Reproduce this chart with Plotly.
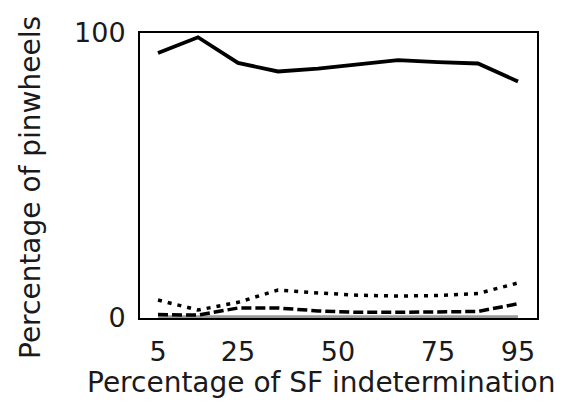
import plotly.graph_objects as go

x_vals = [5, 15, 25, 35, 45, 55, 65, 75, 85, 95]
solid_vals = [93.0, 98.5, 89.5, 86.5, 87.5, 89.0, 90.5, 89.8, 89.3, 83.0]
dotted_vals = [6.3, 2.8, 5.5, 9.8, 8.8, 8.0, 7.7, 7.9, 8.6, 12.3]
dashed_vals = [1.2, 1.0, 3.5, 3.5, 2.5, 2.0, 2.0, 2.0, 2.3, 5.0]
gray_vals = [0.3, 0.3, 0.3, 0.3, 0.3, 0.3, 0.3, 0.3, 0.3, 0.3]
x_ticks = [5, 25, 50, 75, 95]
y_ticks = [0, 100]

fig = go.Figure()
fig.add_trace(go.Scatter(x=x_vals, y=gray_vals, mode="lines",
                         line=dict(color="#9a9a9a", width=4)))
fig.add_trace(go.Scatter(x=x_vals, y=dashed_vals, mode="lines",
                         line=dict(color="black", width=3.5, dash="10px,4px")))
fig.add_trace(go.Scatter(x=x_vals, y=dotted_vals, mode="lines",
                         line=dict(color="black", width=3.5, dash="4px,6px")))
fig.add_trace(go.Scatter(x=x_vals, y=solid_vals, mode="lines",
                         line=dict(color="black", width=3.8)))

font = dict(family="DejaVu Sans", size=27, color="#1a1a1a")
title_font = dict(family="DejaVu Sans", size=28, color="#1a1a1a")
fig.update_layout(
    width=563, height=404,
    margin=dict(l=132, r=34, t=25, b=94, autoexpand=False),
    plot_bgcolor="white", paper_bgcolor="white",
    showlegend=False,
    font=font,
    xaxis=dict(range=[0.5, 99.75], tickvals=x_ticks, showgrid=False, zeroline=False,
               showline=True, linecolor="black", linewidth=2, mirror=True,
               ticks="", ticklen=0, layer="below traces", tickfont=font,
               ticklabelstandoff=9),
    yaxis=dict(range=[0, 100], tickvals=y_ticks, showgrid=False, zeroline=False,
               showline=True, linecolor="black", linewidth=2, mirror=True,
               ticks="", ticklen=0, layer="below traces", tickfont=font,
               ticklabelstandoff=7),
    annotations=[
        dict(text="Percentage of SF indetermination", xref="paper", yref="paper",
             x=(321 - 140) / 397, y=-(382 - 318) / 285, xanchor="center", yanchor="middle",
             showarrow=False, font=title_font),
        dict(text="Percentage of pinwheels", xref="paper", yref="paper",
             x=-(140 - 30) / 397, y=(318 - 188) / 285, xanchor="center", yanchor="middle",
             textangle=-90, showarrow=False, font=title_font),
    ],
)
fig.write_html("out.html")
